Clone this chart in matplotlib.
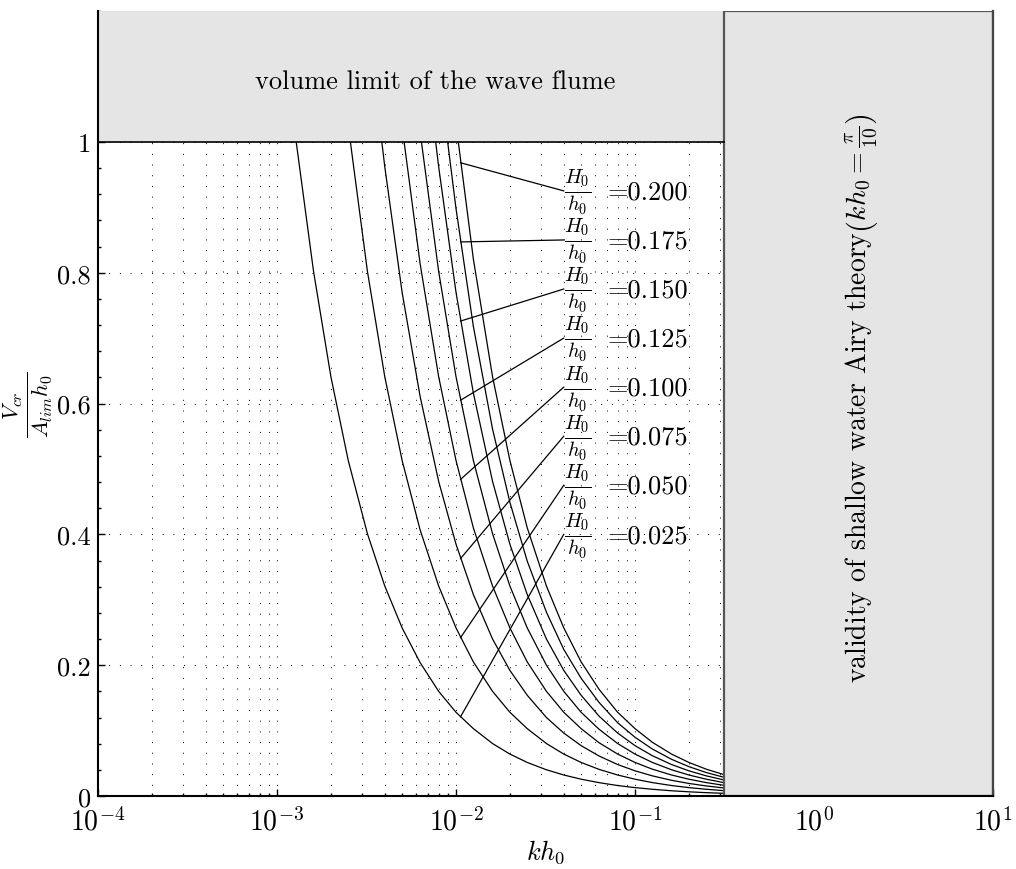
import matplotlib
matplotlib.use("Agg")
import matplotlib.pyplot as plt
from matplotlib.patches import Rectangle
from matplotlib.ticker import FixedLocator, FixedFormatter, LogLocator, MultipleLocator, NullFormatter

plt.rcParams.update({
    "font.family": "serif",
    "font.serif": ["cmr10"],
    "mathtext.fontset": "cm",
    "axes.formatter.use_mathtext": True,
    "axes.unicode_minus": False,
})

# ---------------- data ----------------
H_ratio = [0.025, 0.050, 0.075, 0.100, 0.125, 0.150, 0.175, 0.200]
kh_at_limit = [1.28e-3, 2.57e-3, 3.85e-3, 5.13e-3, 6.41e-3, 7.70e-3, 8.98e-3, 1.03e-2]
kh_grid = [1.6e-3, 2e-3, 2.5e-3, 3.2e-3, 4e-3, 5e-3, 6.3e-3, 8e-3, 1e-2, 1.25e-2,
           1.6e-2, 2e-2, 2.5e-2, 3.2e-2, 4e-2, 5e-2, 6.3e-2, 8e-2, 0.1, 0.125,
           0.16, 0.2, 0.25, 0.314]
V_025 = [0.802, 0.641, 0.513, 0.401, 0.321, 0.257, 0.204, 0.160, 0.128, 0.103,
         0.0802, 0.0641, 0.0513, 0.0401, 0.0321, 0.0257, 0.0204, 0.0160, 0.0128,
         0.0103, 0.0080, 0.0064, 0.0051, 0.0041]
V_050 = [0.802, 0.641, 0.513, 0.407, 0.321, 0.257, 0.205, 0.160, 0.128, 0.103,
         0.0802, 0.0641, 0.0513, 0.0407, 0.0321, 0.0257, 0.0205, 0.0160, 0.0128,
         0.0103, 0.0082]
V_075 = [0.962, 0.770, 0.611, 0.481, 0.385, 0.308, 0.240, 0.192, 0.154, 0.120,
         0.0962, 0.0770, 0.0611, 0.0481, 0.0385, 0.0308, 0.0240, 0.0192, 0.0154,
         0.0123]
V_100 = [0.814, 0.641, 0.513, 0.410, 0.321, 0.257, 0.205, 0.160, 0.128, 0.103,
         0.0814, 0.0641, 0.0513, 0.0410, 0.0321, 0.0257, 0.0205, 0.0163]
V_125 = [0.802, 0.641, 0.513, 0.401, 0.321, 0.257, 0.200, 0.160, 0.128, 0.102,
         0.0802, 0.0641, 0.0513, 0.0401, 0.0321, 0.0257, 0.0204]
V_150 = [0.962, 0.770, 0.616, 0.481, 0.385, 0.308, 0.240, 0.192, 0.154, 0.122,
         0.0962, 0.0770, 0.0616, 0.0481, 0.0385, 0.0308, 0.0245]
V_175 = [0.898, 0.718, 0.561, 0.449, 0.359, 0.281, 0.224, 0.180, 0.143, 0.112,
         0.0898, 0.0718, 0.0561, 0.0449, 0.0359, 0.0286]
V_200 = [0.821, 0.641, 0.513, 0.410, 0.321, 0.257, 0.205, 0.163, 0.128, 0.103,
         0.0821, 0.0641, 0.0513, 0.0410, 0.0327]
curves = [V_025, V_050, V_075, V_100, V_125, V_150, V_175, V_200]

# label leader lines: point on curve -> label position
leader_kh = 0.0106
leader_V = [0.121, 0.242, 0.363, 0.484, 0.605, 0.726, 0.847, 0.968]
label_kh = 0.04
value_kh = 0.0706
label_V = [0.400, 0.475, 0.550, 0.625, 0.700, 0.775, 0.850, 0.925]

kh_airy = 0.314159     # pi/10
V_limit = 1.0
xlim = (1e-4, 1e1)
ylim = (0.0, 1.2)
yticks = [0.0, 0.2, 0.4, 0.6, 0.8, 1.0]
ytick_labels = ["0", "0.2", "0.4", "0.6", "0.8", "1"]
xticks = [1e-4, 1e-3, 1e-2, 1e-1, 1e0, 1e1]
xtick_labels = [r"$10^{-4}$", r"$10^{-3}$", r"$10^{-2}$", r"$10^{-1}$", r"$10^{0}$", r"$10^{1}$"]

# ---------------- figure ----------------
fig = plt.figure(figsize=(10.16, 8.7), dpi=100)
ax = fig.add_axes([98 / 1016, 1 - 797 / 870, (993 - 98) / 1016, (797 - 12) / 870])
ax.set_xscale("log")
ax.set_xlim(*xlim)
ax.set_ylim(*ylim)

gray = "#e5e5e5"
ax.add_patch(Rectangle((xlim[0], V_limit), kh_airy - xlim[0], ylim[1] - V_limit,
                       facecolor=gray, edgecolor="none", zorder=2.6))
ax.add_patch(Rectangle((kh_airy, ylim[0]), xlim[1] - kh_airy, ylim[1] - ylim[0],
                       facecolor=gray, edgecolor="#555555", lw=1.6, zorder=2.7))
ax.plot([xlim[0], kh_airy], [V_limit, V_limit], color="k", lw=1.2, zorder=2.8)

for k0, vals in zip(kh_at_limit, curves):
    xs = [k0] + kh_grid[len(kh_grid) - len(vals):]
    ys = [V_limit] + vals
    ax.plot(xs, ys, color="k", lw=0.9, zorder=2)

for H, v0, vl in zip(H_ratio, leader_V, label_V):
    ax.plot([leader_kh, label_kh], [v0, vl], color="k", lw=0.9, zorder=2)
    ax.text(label_kh, vl, r"$\frac{H_0}{h_0}$", ha="left", va="center",
            fontsize=21, zorder=3)
    ax.text(value_kh, vl - 0.0118, "=%.3f" % H, ha="left", va="baseline",
            fontsize=19, zorder=3)

ax.text(7.68e-3, 1.083, "volume limit of the wave flume", ha="center", va="baseline",
        fontsize=19, zorder=3)
ax.text(1.85, 0.61, r"validity of shallow water Airy theory$\left(kh_0 = \frac{\pi}{10}\right)$",
        rotation=90, ha="center", va="center", fontsize=20, zorder=3)

# ticks
ax.xaxis.set_major_locator(FixedLocator(xticks))
ax.xaxis.set_major_formatter(FixedFormatter(xtick_labels))
ax.xaxis.set_minor_locator(LogLocator(base=10, subs=[2, 3, 4, 5, 6, 7, 8, 9], numticks=20))
ax.xaxis.set_minor_formatter(NullFormatter())
ax.yaxis.set_major_locator(FixedLocator(yticks))
ax.yaxis.set_major_formatter(FixedFormatter(ytick_labels))
ax.yaxis.set_minor_locator(MultipleLocator(0.04))
ax.tick_params(which="both", direction="in", top=False, right=False, width=1.0, color="k")
ax.tick_params(which="major", length=5)
ax.tick_params(which="minor", length=2.5)
ax.tick_params(axis="y", labelsize=19, pad=5)
ax.tick_params(axis="x", labelsize=20, pad=8)

# grid
dots = (0, (1, 10))
ax.grid(True, which="both", axis="x", linestyle=dots, lw=0.7, color="k")
ax.grid(True, which="major", axis="y", linestyle=dots, lw=0.7, color="k")

# spines
for s in ["left", "bottom"]:
    ax.spines[s].set_color("k")
    ax.spines[s].set_linewidth(1.5)
    ax.spines[s].set_zorder(3)
ax.spines["top"].set_visible(False)
ax.spines["right"].set_color("#444444")
ax.spines["right"].set_linewidth(1.6)
ax.spines["right"].set_zorder(3)

ax.set_xlabel(r"$kh_0$", fontsize=19)
ax.xaxis.set_label_coords(0.5, -0.052)
ax.set_ylabel(r"$\frac{V_{cr}}{A_{lim}h_0}$", fontsize=23)
ax.yaxis.set_label_coords(-0.078, 0.5)
ax.yaxis.label.set_verticalalignment("center")

fig.savefig("out.png", dpi=100)
